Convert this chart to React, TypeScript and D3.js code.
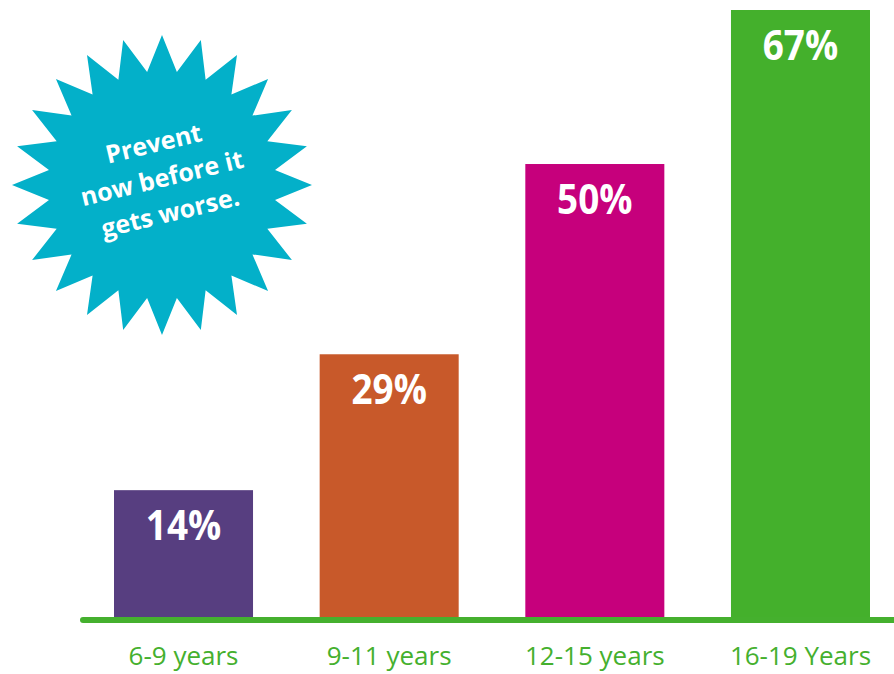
import React from 'react';
import * as d3 from 'd3';

// data
const ageGroups = ['6-9 years', '9-11 years', '12-15 years', '16-19 Years'];
const shares = [14, 29, 50, 67];
const barColors = ['#573e80', '#c8592a', '#c6007c', '#44b02c'];
const calloutLines = ['Prevent', 'now before it', 'gets worse.'];

const WIDTH = 894;
const HEIGHT = 674;
const BASE_Y = 617;
const AXIS_GREEN = '#45b02e';
const FONT = '"Open Sans", "DejaVu Sans", sans-serif';

const App: React.FC = () => {
  const x = d3.scaleBand<string>()
    .domain(ageGroups)
    .range([114, 870])
    .paddingInner(0.324)
    .paddingOuter(0);

  const y = d3.scaleLinear()
    .domain([0, d3.max(shares) || 1])
    .range([BASE_Y, 10]);

  // 24 point starburst
  const spikes = 24;
  const starPoints: [number, number][] = d3.range(spikes * 2).map(i => [
    (i * Math.PI) / spikes,
    i % 2 === 0 ? 150 : 114,
  ]);
  const starPath = d3.lineRadial().curve(d3.curveLinearClosed)(starPoints) || '';
  const starCx = 162;
  const starCy = 185;

  return (
    <svg
      width={WIDTH}
      height={HEIGHT}
      style={{ position: 'absolute', left: 0, top: 0, background: '#fff' }}
      fontFamily={FONT}
    >
      {/* bars */}
      {ageGroups.map((g, i) => (
        <rect
          key={g}
          x={x(g)}
          y={y(shares[i])}
          width={x.bandwidth()}
          height={BASE_Y - y(shares[i])}
          fill={barColors[i]}
        />
      ))}

      {/* value labels */}
      {ageGroups.map((g, i) => {
        const cx = (x(g) || 0) + x.bandwidth() / 2;
        return (
          <text
            key={g}
            transform={`translate(${cx}, ${y(shares[i]) + 50}) scale(0.9, 1)`}
            textAnchor="middle"
            fontSize={41}
            fontWeight="bold"
            fill="#fff"
          >
            {shares[i]}%
          </text>
        );
      })}

      {/* baseline */}
      <line
        x1={83}
        x2={WIDTH + 10}
        y1={BASE_Y + 3}
        y2={BASE_Y + 3}
        stroke={AXIS_GREEN}
        strokeWidth={6}
        strokeLinecap="round"
      />

      {/* category labels */}
      {ageGroups.map(g => (
        <text
          key={g}
          x={(x(g) || 0) + x.bandwidth() / 2}
          y={665}
          textAnchor="middle"
          fontSize={26}
          fill={AXIS_GREEN}
        >
          {g}
        </text>
      ))}

      {/* callout starburst */}
      <g transform={`translate(${starCx}, ${starCy})`}>
        <path d={starPath} fill="#03b0c9" />
      </g>
      <g transform="translate(164, 186.7) rotate(-13.5)">
        {calloutLines.map((line, i) => (
          <text
            key={line}
            x={0}
            y={(i - 1) * 35.5}
            textAnchor="middle"
            fontSize={25}
            fontWeight="bold"
            fill="#fff"
          >
            {line}
          </text>
        ))}
      </g>
    </svg>
  );
};

export default App;
